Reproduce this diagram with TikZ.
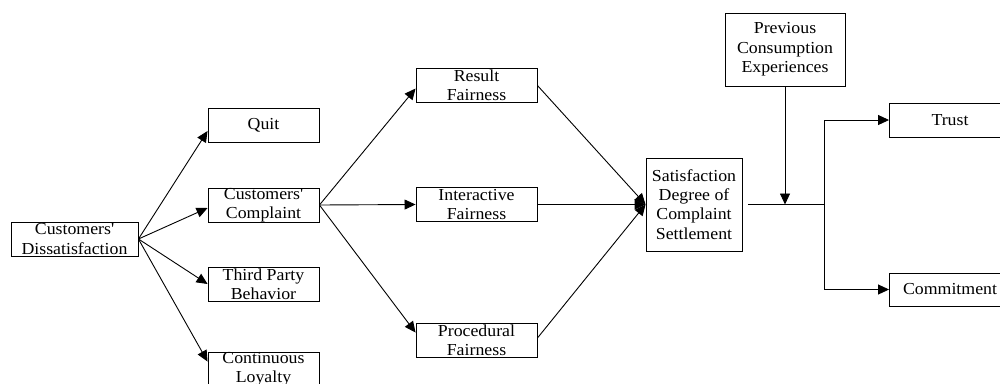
\documentclass[tikz,border=0pt]{standalone}
\usepackage{fontspec}
\setmainfont{Liberation Serif}[FakeStretch=1.06]
\usetikzlibrary{arrows.meta}
\begin{document}
\begin{tikzpicture}[x=1pt,y=-1pt,
  blk/.style={draw, line width=0.9pt, fill=white, inner sep=0pt, align=center,
    minimum height=34pt, font=\fontsize{16.8}{19.3}\selectfont},
  narrow/.style={minimum width=111pt},
  wide/.style={minimum width=121pt},
  ln/.style={line width=0.9pt},
  arr/.style={line width=0.9pt, -{Triangle[length=11pt,width=10pt]}}]
\useasboundingbox (0,0) rectangle (1000,383);
\clip (0,0) rectangle (1000,383);

% reactions to dissatisfaction
\node[blk, minimum width=127pt] (dis) at (74.5,239) {Customers\textquotesingle\\Dissatisfaction};
\node[blk, narrow] (quit)  at (263.5,125) {Quit};
\node[blk, narrow] (comp)  at (263.5,205) {Customers\textquotesingle\\Complaint};
\node[blk, narrow] (third) at (263.5,284) {Third Party\\Behavior};
\node[blk, narrow] (cont)  at (263.5,369) {Continuous\\Loyalty};

% perceived fairness
\node[blk, wide] (res)   at (476.5,85.5) {Result\\Fairness};
\node[blk, wide] (inter) at (476.5,204.5) {Interactive\\Fairness};
\node[blk, wide] (proc)  at (476.5,340) {Procedural\\Fairness};

% settlement and outcomes
\node[blk, minimum width=96pt, minimum height=93pt] (sat) at (694,204.5)
  {Satisfaction\\Degree of\\Complaint\\Settlement};
\node[blk, minimum width=120pt, minimum height=73pt] (prev) at (785,49.5)
  {Previous\\Consumption\\Experiences};
\node[blk, wide] (trust)  at (950,120) {Trust};
\node[blk, wide, minimum height=33pt] (commit) at (950,289.5) {Commitment};

% connectors
\draw[arr] (dis.east) -- ([yshift=-6pt]quit.west);
\draw[arr] (dis.east) -- ([yshift=-3pt]comp.west);
\draw[arr] (dis.east) -- (third.west);
\draw[arr] (dis.east) -- ([yshift=-10pt]cont.north west);

\draw[arr] (comp.east) -- ([yshift=-3pt]res.west);
\draw[arr] (comp.east) -- (inter.west);
\draw[arr] (comp.east) -- ([yshift=-10pt]proc.north west);

\draw[arr] (res.east) -- (sat.west);
\draw[arr] (inter.east) -- (sat.west);
\draw[arr] ([yshift=2pt]proc.east) -- (sat.west);

\coordinate (s0) at ([xshift=6pt]sat.east);
\coordinate (j) at ([xshift=82pt]sat.east);
\draw[ln] (s0) -- (j);
\draw[arr] (prev.south) -- (prev.south |- s0);
\draw[arr] (j) |- (trust.west);
\draw[arr] (j) |- (commit.west);
\end{tikzpicture}
\end{document}
